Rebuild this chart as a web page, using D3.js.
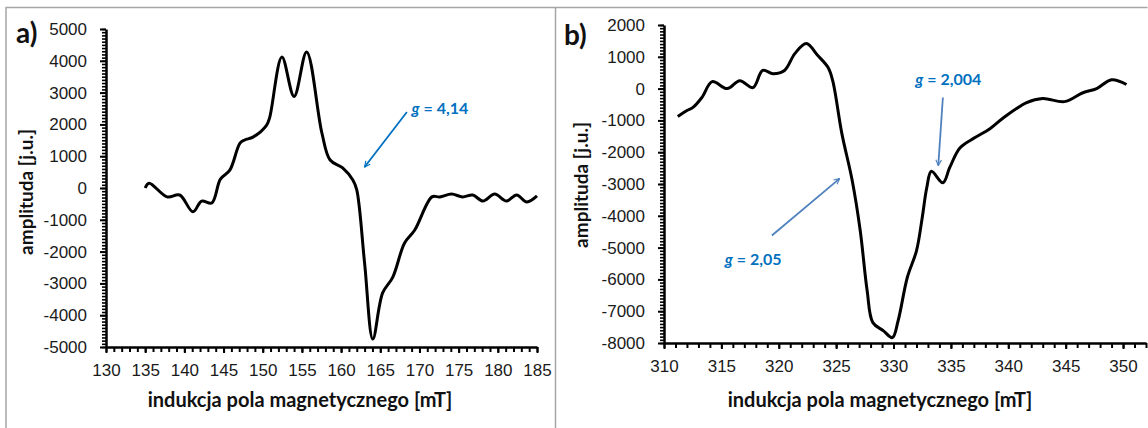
<!DOCTYPE html>
<html lang="pl">
<head>
  <meta charset="UTF-8">
  <title>Widma EPR</title>
  <script src="https://d3js.org/d3.v7.min.js"></script>
  <style>
    body {
      margin: 0;
      background: #fff;
    }
    svg {
      font-family: Lato, "Open Sans", sans-serif;
      display: block;
    }
  </style>
</head>
<body>
  <svg width="1148" height="428"></svg>

  <script>
    // panel a) - field [mT] and amplitude [j.u.]
    const aField = [135, 135.5, 137.8, 139.4, 141.1, 142.2, 143.5, 144.6, 145.8, 147.1, 147.7, 148.75, 150.5, 150.9,
      152.45, 154.0, 155.6, 157.55, 158.6, 160.2, 161.5, 162.0, 163.0, 164.05, 165.3, 166.6, 168.1, 169.4,
      171.6, 172.6, 174.1, 175.5, 176.8, 178.1, 179.6, 181.1, 182.4, 183.7, 185.0];
    const aAmp = [0, 150, -280, -220, -750, -410, -470, 280, 560, 1410, 1510, 1600, 1980, 2230,
      4120, 2880, 4280, 1730, 880, 630, 250, -60, -2360, -4750, -3300, -2800, -1730, -1320,
      -280, -280, -190, -280, -220, -410, -190, -410, -220, -440, -250];

    // panel b)
    const bField = [311.2, 312.0, 312.5, 313.3, 314.2, 315.5, 316.6, 317.75, 318.6, 319.5, 320.5, 321.4, 322.4,
      323.4, 324.3, 324.7, 325.5, 326.4, 327.1, 327.7, 328.2, 329.1, 329.9, 330.4, 331.2, 332.0, 332.5,
      332.9, 333.3, 334.3, 334.9, 335.8, 337.1, 338.4, 339.5, 341.6, 343.0, 344.9, 346.5, 347.7, 349.0, 350.3];
    const bAmp = [-880, -690, -600, -280, 220, 0, 250, 30, 570, 470, 570, 1100, 1415,
      1040, 660, 250, -1415, -2890, -4470, -6350, -7360, -7610, -7830, -7300, -5940, -5100, -4060,
      -3110, -2600, -2960, -2480, -1860, -1540, -1260, -940, -440, -310, -410, -130, 0, 280, 130];

    const aXTicks = d3.range(130, 186, 5);
    const aYTicks = d3.range(-5000, 5001, 1000);
    const bXTicks = d3.range(310, 351, 5);
    const bYTicks = d3.range(-8000, 2001, 1000);

    const xTitle = "indukcja pola magnetycznego [mT]";
    const yTitle = "amplituda [j.u.]";

    // annotations: label, text pos, arrow start -> arrow end (data units)
    const aNotes = [
      { val: "4,14", tx: 169.0, ty: 2330, from: [168.4, 2390], to: [163.0, 660], arrow: "#0070C0" }
    ];
    const bNotes = [
      { val: "2,004", tx: 331.9, ty: 100, from: [334.3, -280], to: [333.9, -2420], arrow: "#4F81BD" },
      { val: "2,05", tx: 315.3, ty: -5535, from: [319.4, -4620], to: [325.3, -2830], arrow: "#4F81BD" }
    ];

    const svg = d3.select("svg");
    const fmt = d => String(d);  // plain "-5000", no thousands comma

    // marker for open arrow heads
    const defs = svg.append("defs");
    ["#0070C0", "#4F81BD"].forEach((c, i) => {
      defs.append("marker")
        .attr("id", "arr" + i)
        .attr("viewBox", "0 0 10 10")
        .attr("refX", 9).attr("refY", 5)
        .attr("markerWidth", 7).attr("markerHeight", 7)
        .attr("markerUnits", "userSpaceOnUse")
        .attr("orient", "auto")
        .append("path")
        .attr("d", "M1,1 L9,5 L1,9")
        .attr("fill", "none")
        .attr("stroke", c)
        .attr("stroke-width", 1.6);
    });

    // panel frames
    svg.append("path")
      .attr("d", "M6,428 V7.5 H1147.5 M555.5,7.5 V428")
      .attr("fill", "none")
      .attr("stroke", "#a6a6a6")
      .attr("stroke-width", 1.5);

    function drawPanel(p) {
      const x = d3.scaleLinear().domain(p.xDom).range([p.left, p.right]);
      const y = d3.scaleLinear().domain(p.yDom).range([p.bottom, p.top]);
      const g = svg.append("g");

      // minor ticks
      const xMinor = d3.range(p.xDom[0], p.xDom[1] + 0.01, 1);
      g.append("g")
        .attr("transform", `translate(0,${p.bottom})`)
        .call(d3.axisBottom(x).tickValues(xMinor).tickSize(5).tickFormat(""))
        .call(a => a.select(".domain").remove())
        .selectAll("line").attr("stroke", "#000").attr("stroke-width", 2);

      const yMinor = d3.range(p.yDom[0], p.yDom[1] + 1, 100);
      g.append("g")
        .attr("transform", `translate(${p.left},0)`)
        .call(d3.axisLeft(y).tickValues(yMinor).tickSize(4).tickFormat(""))
        .call(a => a.select(".domain").remove())
        .selectAll("line").attr("stroke", "#000").attr("stroke-width", 1.6);

      // major ticks + labels
      const xAx = g.append("g")
        .attr("transform", `translate(0,${p.bottom})`)
        .call(d3.axisBottom(x).tickValues(p.xTicks).tickFormat(fmt)
          .tickSize(6).tickPadding(11).tickSizeOuter(0));
      xAx.selectAll("line").attr("stroke", "#000").attr("stroke-width", 2);
      xAx.selectAll("text").attr("font-size", 17).attr("fill", "#1a1a1a");
      xAx.select(".domain").attr("stroke", "#000").attr("stroke-width", 2.5);

      const yAx = g.append("g")
        .attr("transform", `translate(${p.left},0)`)
        .call(d3.axisLeft(y).tickValues(p.yTicks).tickFormat(fmt)
          .tickSize(6).tickPadding(13).tickSizeOuter(0));
      yAx.selectAll("line").attr("stroke", "#000").attr("stroke-width", 2);
      yAx.selectAll("text").attr("font-size", 17).attr("fill", "#1a1a1a");
      yAx.select(".domain").attr("stroke", "#000").attr("stroke-width", 2.5);

      // the curve
      const line = d3.line()
        .x(d => x(d[0]))
        .y(d => y(d[1]))
        .curve(d3.curveCatmullRom.alpha(0.5));
      g.append("path")
        .datum(d3.zip(p.field, p.amp))
        .attr("fill", "none")
        .attr("stroke", "#000")
        .attr("stroke-width", 3)
        .attr("stroke-linejoin", "round")
        .attr("d", line);

      // annotations
      p.notes.forEach(n => {
        g.append("line")
          .attr("x1", x(n.from[0])).attr("y1", y(n.from[1]))
          .attr("x2", x(n.to[0])).attr("y2", y(n.to[1]))
          .attr("stroke", n.arrow)
          .attr("stroke-width", 1.8)
          .attr("marker-end", n.arrow === "#0070C0" ? "url(#arr0)" : "url(#arr1)");
        const t = g.append("text")
          .attr("x", x(n.tx)).attr("y", y(n.ty))
          .attr("font-size", 16)
          .attr("font-weight", "bold")
          .attr("fill", "#0070C0");
        t.append("tspan").attr("font-style", "italic").text("g");
        t.append("tspan").text(" = " + n.val);
      });

      // titles
      g.append("text")
        .attr("x", (p.titleX))
        .attr("y", 407)
        .attr("text-anchor", "middle")
        .attr("font-size", 20)
        .attr("font-weight", "bold")
        .attr("fill", "#111")
        .text(xTitle);

      g.append("text")
        .attr("transform", `translate(${p.yTitleX},${p.yTitleY}) rotate(-90)`)
        .attr("text-anchor", "middle")
        .attr("font-size", 19)
        .attr("font-weight", "bold")
        .attr("fill", "#111")
        .text(yTitle);

      g.append("text")
        .attr("x", p.letterX).attr("y", p.letterY)
        .attr("font-size", 28)
        .attr("font-weight", "bold")
        .attr("fill", "#111")
        .text(p.letter);
    }

    drawPanel({
      field: aField, amp: aAmp, xDom: [130, 185], yDom: [-5000, 5000],
      left: 106, right: 537, top: 29, bottom: 347,
      xTicks: aXTicks, yTicks: aYTicks, notes: aNotes,
      titleX: 300, yTitleX: 33, yTitleY: 192, letter: "a)", letterX: 16, letterY: 43
    });

    drawPanel({
      field: bField, amp: bAmp, xDom: [310, 352], yDom: [-8000, 2000],
      left: 664, right: 1146, top: 25, bottom: 343,
      xTicks: bXTicks, yTicks: bYTicks, notes: bNotes,
      titleX: 880, yTitleX: 588, yTitleY: 185, letter: "b)", letterX: 564, letterY: 45
    });
  </script>
</body>
</html>
